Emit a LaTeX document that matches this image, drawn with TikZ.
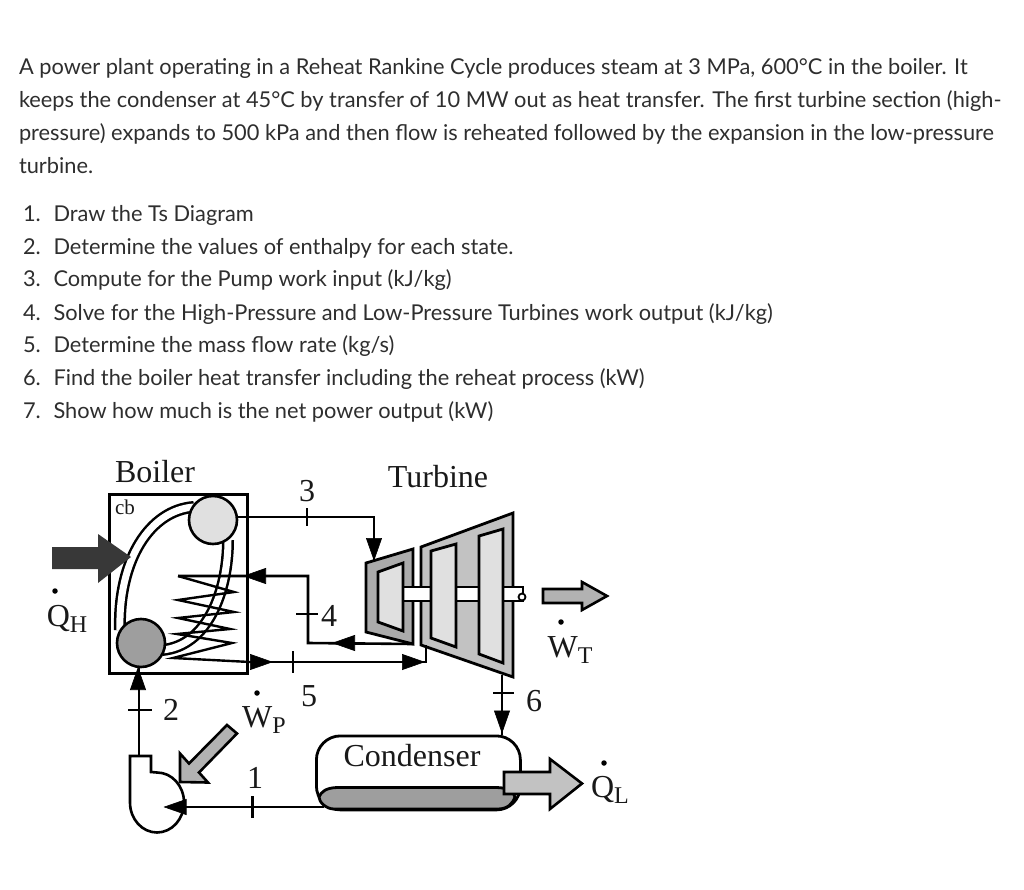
\documentclass[tikz,border=0pt]{standalone}
\usepackage{fontspec}
\setmainfont{Liberation Serif}
\newfontfamily\bodyfont{Lato}
\usetikzlibrary{arrows.meta}
\newcommand{\lblfont}{\fontsize{32}{34}\selectfont}
\newcommand{\subfont}{\fontsize{24}{26}\selectfont}
\newcommand{\withsub}[2]{{\lblfont #1}\raisebox{-6pt}{\subfont #2}}
\tikzset{
  x=1pt,y=-1pt,
  para/.style={anchor=base west,inner sep=0pt,outer sep=0pt,text=black!82,font=\bodyfont\fontsize{21.8}{26}\selectfont},
  lbl/.style={inner sep=0pt,outer sep=0pt,text=black!90,font=\lblfont},
  wire/.style={draw=black,line width=2.6pt,line join=miter},
  head/.style={draw=black,line width=0.6pt,-{Triangle[length=23pt,width=16pt]}},
  tick/.style={draw=black,line width=2.2pt},
  outline/.style={draw=black,line width=2.8pt,line join=miter},
  dotmark/.style={circle,fill=black,inner sep=0pt,minimum size=5.5pt},
  drum/.style={circle,draw=black,line width=2.6pt,minimum size=48pt,inner sep=0pt},
}
\begin{document}
\begin{tikzpicture}
\useasboundingbox (0,0) rectangle (1024,890);
\fill[white] (0,0) rectangle (1024,890);
% paragraph
\node[para] (p1) at (19,74.5) {A power plant operating in a Reheat Rankine Cycle produces steam at 3 MPa, 600°C in the boiler. It};
\node[para] (p2) at (19,107.5) {keeps the condenser at 45°C by transfer of 10 MW out as heat transfer. The first turbine section (high-};
\node[para] (p3) at (19,140.5) {pressure) expands to 500 kPa and then flow is reheated followed by the expansion in the low-pressure};
\node[para] (p4) at (19,173.5) {turbine.};
% list
\foreach \n/\yy/\t in {1/221.5/{Draw the Ts Diagram},
  2/254.3/{Determine the values of enthalpy for each state.},
  3/287/{Compute for the Pump work input (kJ/kg)},
  4/320/{Solve for the High-Pressure and Low-Pressure Turbines work output (kJ/kg)},
  5/352.8/{Determine the mass flow rate (kg/s)},
  6/385.6/{Find the boiler heat transfer including the reheat process (kW)},
  7/418.5/{Show how much is the net power output (kW)}}{
  \node[para] (num\n) at (23,\yy) {\n.};
  \node[para] (item\n) at (53.5,\yy) {\t};
}
% boiler box
\node[draw=black,line width=2.8pt,minimum width=138pt,minimum height=179pt,inner sep=0pt,anchor=north west] (boiler) at (108,493) {};
\node[lbl] (boilerlbl) at (155,472) {Boiler};
\node[lbl,font=\fontsize{21}{22}\selectfont] (cb) at (125,507) {cb};
% tubes
\draw[line width=12pt,black] (120,630) .. controls (118,560) and (150,510) .. (194,507);
\draw[line width=7pt,white] (120,630) .. controls (118,560) and (150,510) .. (194,507);
\draw[line width=12pt,black] (228,540) .. controls (228,590) and (208,646) .. (162,650);
\draw[line width=7pt,white] (228,540) .. controls (228,590) and (208,646) .. (162,650);
% drums
\node[drum,fill=black!12] (topdrum) at (213,520) {};
\node[drum,fill=black!38] (botdrum) at (141,643) {};
% coil
\coordinate (coilin) at (178,576);
\coordinate (coilout) at (250,662);
\draw[line width=2.4pt,line join=miter] (coilin) -- (234,592) -- (178,600) -- (234,612) -- (178,618) -- (230,629) -- (177,634) -- (232,643) -- (173,658) -- (coilout);
% QH arrow
\fill[black!78] (52,547) -- (98,547) -- (98,534) -- (131,557) -- (98,583) -- (98,569) -- (52,569) -- cycle;
\node[lbl] (qh) at (67,619) {\withsub{Q}{H}};
\node[dotmark] (qhdot) at (55,591) {};
% turbine
\coordinate (hpa) at (366,563);
\coordinate (hpb) at (366,632);
\coordinate (hpc) at (413,644);
\coordinate (lpc) at (421,645);
\coordinate (lpe) at (502,675);
\draw[outline,fill=black!33] (hpa) -- (413,549) -- (hpc) -- (hpb) -- cycle;
\draw[outline,fill=black!24] (421,547) -- (513,513) -- (513,677) -- (lpc) -- cycle;
\draw[outline,fill=white] (403,587) rectangle (431,601);
\draw[outline,fill=white] (456,587) rectangle (479,601);
\draw[outline,fill=white] (503,587) -- (523,587) -- (523,601) -- (503,601);
\node[circle,draw=black,line width=1.8pt,fill=white,minimum size=7pt,inner sep=0pt] (shaftend) at (522,597) {};
\draw[outline,fill=black!12] (378,572) -- (403,563) -- (403,631) -- (378,622) -- cycle;
\draw[outline,fill=black!12] (431,551) -- (456,544) -- (456,647) -- (431,638) -- cycle;
\draw[outline,fill=black!12] (479,536) -- (503,529) -- (503,663) -- (479,654) -- cycle;
\node[lbl] (turbinelbl) at (438,477) {Turbine};
% WT
\draw[line width=2.6pt,fill=black!30,line join=miter] (543,589) -- (582,589) -- (582,582) -- (607,596) -- (582,610) -- (582,603) -- (543,603) -- cycle;
\node[lbl] (wt) at (570,650) {\withsub{W}{T}};
\node[dotmark] (wtdot) at (561,622) {};
% wire 3
\coordinate (w3a) at (374,517);
\coordinate (w3b) at (374,561);
\draw[wire] (topdrum.east |- w3a) -- (w3a) -- (w3b);
\draw[head] (374,538) -- (w3b);
\draw[tick] (307,508) -- (307,526);
\node[lbl] (n3) at (307,491) {3};
% wire 4
\coordinate (w4a) at (308,643);
\coordinate (w4b) at (308,576);
\draw[wire] (hpc) -- (w4a) -- (w4b) -- (coilin);
\draw[head] (355,643) -- (332,643);
\draw[head] (266,576) -- (243,576);
\draw[tick] (296,614) -- (318,614);
\node[lbl] (n4) at (329,616) {4};
% wire 5
\coordinate (w5a) at (426,662);
\draw[wire] (coilout) -- (w5a) -- (lpc -| w5a);
\draw[head] (250,662) -- (273,662);
\draw[head] (402,662) -- (425,662);
\draw[tick] (293,651) -- (293,673);
\node[lbl] (n5) at (309,696) {5};
% condenser
\node[draw=black,line width=2.8pt,rounded corners=24pt,minimum width=204pt,minimum height=74pt,inner sep=0pt,anchor=north west] (cond) at (315,734.5) {};
\draw[line width=2.8pt,fill=black!38] (334,809) .. controls (326,809) and (319,802) .. (319,797) .. controls (321,792) and (326,787.5) .. (338,787.5) -- (496,787.5) .. controls (508,787.5) and (514,792) .. (515,797) .. controls (513,803) and (508,809) .. (498,809) -- cycle;
\node[lbl] (condlbl) at (412,756) {Condenser};
% wire 6
\draw[wire] (lpe) -- (cond.north -| lpe);
\draw[head] (502,709) -- (502,733.5);
\draw[tick] (493,693) -- (514,693);
\node[lbl] (n6) at (534,701) {6};
% QL
\draw[line width=2.6pt,fill=black!24,line join=miter] (504,772) -- (550,772) -- (550,759) -- (582,783.5) -- (550,809) -- (550,794) -- (504,794) -- cycle;
\node[lbl] (ql) at (610,790) {\withsub{Q}{L}};
\node[dotmark] (qldot) at (604,763) {};
% pump
\coordinate (pumptop) at (139,756);
\draw[line width=2.6pt,fill=white,line join=miter] (130,756) -- (151,756) -- (151,772) -- (157,772.5) arc[start angle=90,end angle=-180,x radius=27,y radius=-30] -- cycle;
\coordinate (w1a) at (324,807);
\coordinate (w1b) at (186,807);
\draw[wire] (w1a) -- (w1b);
\draw[head] (187,807) -- (163.5,807);
\draw[tick] (252.5,796) -- (252.5,818);
\node[lbl] (n1) at (255,778) {1};
% wire 2
\draw[wire] (pumptop) -- (botdrum.south -| pumptop);
\draw[head] (138,690) -- (138,667);
\draw[tick] (128,710) -- (152,710);
\node[lbl] (n2) at (171,710) {2};
% WP
\draw[line width=2.6pt,fill=black!30,line join=miter] (227,725) -- (237,733.5) -- (199,772.5) -- (208,782.5) -- (180,782) -- (180,753.5) -- (189,763.5) -- cycle;
\node[lbl] (wp) at (264,720) {\withsub{W}{P}};
\node[dotmark] (wpdot) at (257,693) {};
\end{tikzpicture}
\end{document}
